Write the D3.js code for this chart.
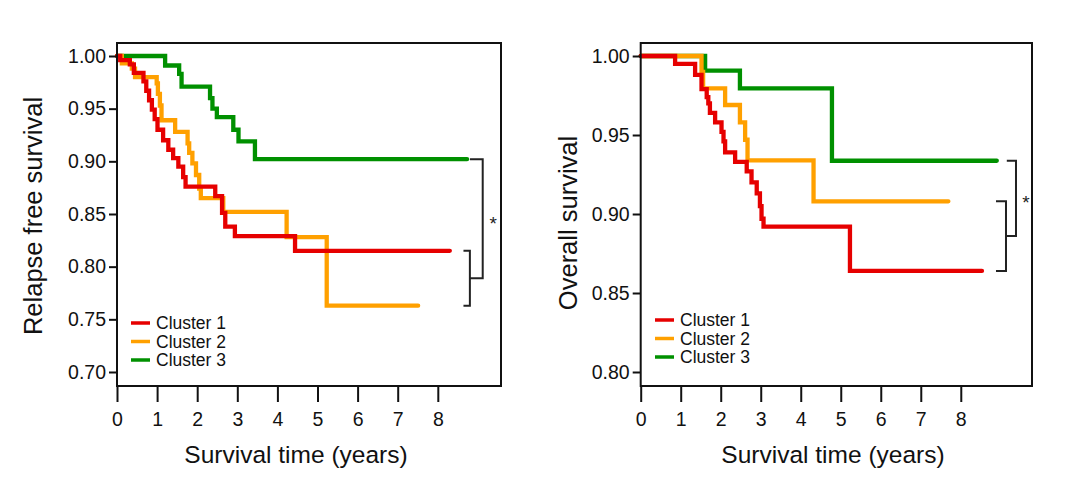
<!DOCTYPE html>
<html>
<head>
<meta charset="utf-8">
<script src="https://cdn.jsdelivr.net/npm/d3@7"></script>
<style>
  html, body { margin: 0; padding: 0; background: #fff; }
  svg { display: block; font-family: "Liberation Sans", Arial, sans-serif; }
</style>
</head>
<body>
<svg id="chart" width="1080" height="480"></svg>
<script>
// ---------------- DATA ----------------
const clusters = ["Cluster 1", "Cluster 2", "Cluster 3"];
const clusterColors = ["#e60000", "#ffa000", "#009000"];

const xTickValues = [0, 1, 2, 3, 4, 5, 6, 7, 8];
const rfsYTicks = [0.70, 0.75, 0.80, 0.85, 0.90, 0.95, 1.00];
const osYTicks = [0.80, 0.85, 0.90, 0.95, 1.00];

// Relapse free survival (time in years, survival probability)
const rfsTime1 = [0, 0.08, 0.32, 0.42, 0.66, 0.73, 0.80, 0.87, 0.94, 1.01, 1.15, 1.28, 1.40, 1.53, 1.65, 1.71, 2.45, 2.62, 2.70, 2.94, 4.44, 8.30];
const rfsSurv1 = [1, 0.996, 0.992, 0.984, 0.976, 0.967, 0.958, 0.949, 0.940, 0.930, 0.920, 0.911, 0.903, 0.895, 0.885, 0.876, 0.867, 0.851, 0.838, 0.829, 0.815, 0.815];
const rfsTime2 = [0, 0.12, 0.37, 0.45, 0.99, 1.02, 1.07, 1.11, 1.45, 1.76, 1.80, 1.88, 1.97, 2.05, 2.09, 2.65, 4.23, 5.23, 7.51];
const rfsSurv2 = [1, 0.993, 0.988, 0.980, 0.974, 0.964, 0.953, 0.939, 0.928, 0.917, 0.908, 0.898, 0.887, 0.874, 0.865, 0.852, 0.828, 0.763, 0.763];
const rfsTime3 = [0, 1.20, 1.55, 1.61, 2.32, 2.38, 2.49, 2.90, 3.03, 3.44, 8.73];
const rfsSurv3 = [1, 0.991, 0.983, 0.971, 0.960, 0.950, 0.942, 0.930, 0.919, 0.902, 0.902];

// Overall survival
const osTime1 = [0, 0.86, 1.36, 1.52, 1.65, 1.69, 1.73, 1.86, 2.02, 2.07, 2.11, 2.36, 2.65, 2.77, 2.90, 2.98, 3.02, 3.07, 5.23, 8.53];
const osSurv1 = [1, 0.995, 0.988, 0.979, 0.974, 0.970, 0.964, 0.958, 0.952, 0.946, 0.939, 0.933, 0.927, 0.920, 0.913, 0.905, 0.897, 0.892, 0.864, 0.864];
const osTime2 = [0, 1.52, 1.56, 2.11, 2.48, 2.61, 2.67, 4.32, 7.69];
const osSurv2 = [1, 0.990, 0.9795, 0.969, 0.958, 0.947, 0.934, 0.908, 0.908];
const osTime3 = [0, 1.61, 2.48, 4.78, 8.90];
const osSurv3 = [1, 0.9907, 0.9795, 0.9337, 0.9337];

// significance brackets: pairs of cluster indices (0-based)
const rfsBrackets = [[0, 1], [2, -1]];
const osBrackets = [[1, 0], [2, -1]];

// ---------------- CHART ----------------
const svg = d3.select("#chart");
const FONT = '"Liberation Sans", Arial, sans-serif';

const panels = [
  {
    left: 117, right: 501, top: 43, bottom: 386,
    xMax: 9.576, yMin: 0.6867, yMax: 1.01234,
    yTicks: rfsYTicks,
    series: [[rfsTime1, rfsSurv1], [rfsTime2, rfsSurv2], [rfsTime3, rfsSurv3]],
    ylabel: "Relapse free survival", ylabelX: 33, ylabelY: 216,
    xlabelX: 296,
    legend: { x: 131, y: 323, gap: 18.5 },
    bracket: { innerX: 8.80, innerTick: 8.64, outerX: 9.12, outerTick: 8.80, starX: 9.38 }
  },
  {
    left: 640.7, right: 1032, top: 43, bottom: 386,
    xMax: 9.78, yMin: 0.79114, yMax: 1.00823,
    yTicks: osYTicks,
    series: [[osTime1, osSurv1], [osTime2, osSurv2], [osTime3, osSurv3]],
    ylabel: "Overall survival", ylabelX: 568, ylabelY: 223,
    xlabelX: 833,
    legend: { x: 655, y: 320, gap: 18.5 },
    bracket: { innerX: 9.13, innerTick: 8.88, outerX: 9.38, outerTick: 9.15, starX: 9.63 }
  }
];

panels.forEach((p, pi) => {
  const x = d3.scaleLinear().domain([0, p.xMax]).range([p.left, p.right]);
  const y = d3.scaleLinear().domain([p.yMin, p.yMax]).range([p.bottom, p.top]);
  const g = svg.append("g");

  // curves (drawn before frame)
  const line = d3.line().x(d => x(d[0])).y(d => y(d[1])).curve(d3.curveStepAfter);
  const order = [2, 1, 0];
  order.forEach(i => {
    const [t, s] = p.series[i];
    const pts = t.map((tv, k) => [tv, s[k]]);
    g.append("path")
      .attr("d", line(pts))
      .attr("fill", "none")
      .attr("stroke", clusterColors[i])
      .attr("stroke-width", 4.3)
      .attr("stroke-linecap", "round")
      .attr("stroke-linejoin", "miter");
  });

  // frame
  g.append("rect")
    .attr("x", p.left).attr("y", p.top)
    .attr("width", p.right - p.left).attr("height", p.bottom - p.top)
    .attr("fill", "none").attr("stroke", "#111").attr("stroke-width", 2);

  // y axis
  const yAxis = d3.axisLeft(y).tickValues(p.yTicks).tickFormat(d3.format(".2f"))
    .tickSize(8).tickSizeOuter(0).tickPadding(3);
  const ya = g.append("g").attr("transform", `translate(${p.left},0)`).call(yAxis);
  ya.select(".domain").remove();
  ya.selectAll(".tick line").attr("stroke", "#111").attr("stroke-width", 2);
  ya.selectAll(".tick text").attr("font-family", FONT).attr("font-size", 19.5).attr("fill", "#111");

  // x axis
  const xAxis = d3.axisBottom(x).tickValues(xTickValues).tickFormat(d3.format("d"))
    .tickSize(16).tickSizeOuter(0).tickPadding(10);
  const xa = g.append("g").attr("transform", `translate(0,${p.bottom})`).call(xAxis);
  xa.select(".domain").remove();
  xa.selectAll(".tick line").attr("stroke", "#111").attr("stroke-width", 2);
  xa.selectAll(".tick text").attr("font-family", FONT).attr("font-size", 19.5).attr("fill", "#111");

  // axis titles
  g.append("text")
    .attr("x", p.xlabelX).attr("y", 463)
    .attr("text-anchor", "middle")
    .attr("font-family", FONT).attr("font-size", 24.5).attr("fill", "#111")
    .text("Survival time (years)");
  g.append("text")
    .attr("transform", `translate(${p.ylabelX + 9},${p.ylabelY}) rotate(-90)`)
    .attr("text-anchor", "middle")
    .attr("font-family", FONT).attr("font-size", 25.5).attr("fill", "#111")
    .text(p.ylabel);

  // legend
  clusters.forEach((name, i) => {
    const ly = p.legend.y + i * p.legend.gap;
    g.append("line")
      .attr("x1", p.legend.x).attr("x2", p.legend.x + 19)
      .attr("y1", ly).attr("y2", ly)
      .attr("stroke", clusterColors[i]).attr("stroke-width", 3.5);
    g.append("text")
      .attr("x", p.legend.x + 25).attr("y", ly + 6)
      .attr("font-family", FONT).attr("font-size", 17.5).attr("fill", "#111")
      .text(name);
  });

  // significance brackets
  const endVal = i => { const s = p.series[i][1]; return s[s.length - 1]; };
  const b = p.bracket;
  const [a1, a2] = pi === 0 ? rfsBrackets[0] : osBrackets[0];
  const yA = y(endVal(a1)), yB = y(endVal(a2));
  const yMid = (yA + yB) / 2;
  const yTop = y(endVal(2));
  const bs = g.append("g").attr("fill", "none").attr("stroke", "#222").attr("stroke-width", 2);
  bs.append("path").attr("d",
    `M${x(b.innerTick)},${Math.min(yA, yB)}H${x(b.innerX)}V${Math.max(yA, yB)}H${x(b.innerTick)}`);
  bs.append("path").attr("d",
    `M${x(b.outerTick)},${yTop}H${x(b.outerX)}V${yMid}H${x(b.innerX)}`);
  g.append("text")
    .attr("x", x(b.starX)).attr("y", (yTop + yMid) / 2 + 11)
    .attr("text-anchor", "middle")
    .attr("font-family", FONT).attr("font-size", 19).attr("fill", "#222")
    .text("*");
});
</script>
</body>
</html>
